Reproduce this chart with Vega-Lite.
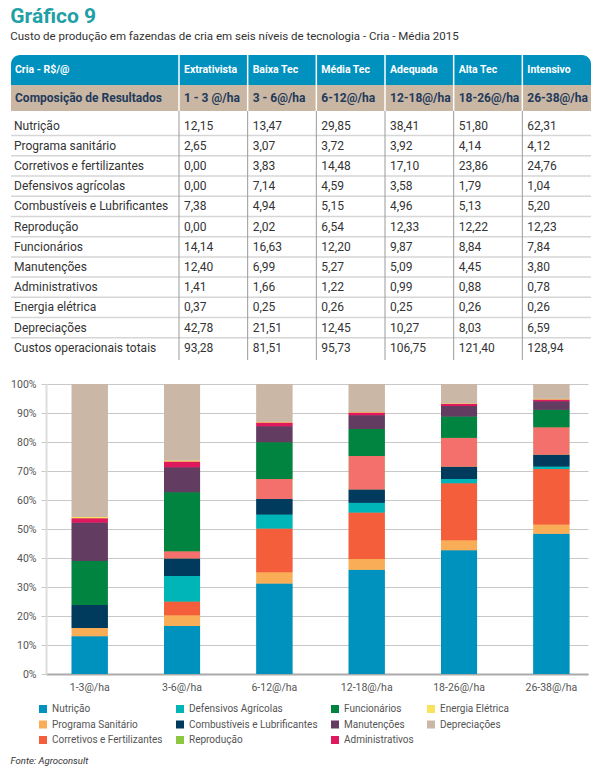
{
  "$schema": "https://vega.github.io/schema/vega-lite/v6.json",
  "background": "white",
  "padding": {"left": 10, "top": 5, "right": 5, "bottom": 5},
  "config": {
    "font": "Roboto",
    "locale": {"number": {"decimal": ",", "thousands": ".", "grouping": [3], "currency": ["R$ ", ""]}},
    "view": {"stroke": null}
  },
  "title": {
    "text": "Gráfico 9",
    "subtitle": "Custo de produção em fazendas de cria em seis níveis de tecnologia - Cria - Média 2015",
    "anchor": "start",
    "frame": "bounds",
    "font": "Roboto",
    "fontSize": 21,
    "fontWeight": "bold",
    "color": "#1FA0A6",
    "subtitleFont": "Roboto",
    "subtitleFontSize": 11.5,
    "subtitleColor": "#333333",
    "subtitlePadding": 4,
    "offset": 12
  },
  "datasets": {
    "tabela": [
      {"item": "Nutrição", "serie": "Nutrição", "ordem": 1, "1-3@/ha": 12.15, "3-6@/ha": 13.47, "6-12@/ha": 29.85, "12-18@/ha": 38.41, "18-26@/ha": 51.80, "26-38@/ha": 62.31},
      {"item": "Programa sanitário", "serie": "Programa Sanitário", "ordem": 2, "1-3@/ha": 2.65, "3-6@/ha": 3.07, "6-12@/ha": 3.72, "12-18@/ha": 3.92, "18-26@/ha": 4.14, "26-38@/ha": 4.12},
      {"item": "Corretivos e fertilizantes", "serie": "Corretivos e Fertilizantes", "ordem": 3, "1-3@/ha": 0.00, "3-6@/ha": 3.83, "6-12@/ha": 14.48, "12-18@/ha": 17.10, "18-26@/ha": 23.86, "26-38@/ha": 24.76},
      {"item": "Defensivos agrícolas", "serie": "Defensivos Agrícolas", "ordem": 4, "1-3@/ha": 0.00, "3-6@/ha": 7.14, "6-12@/ha": 4.59, "12-18@/ha": 3.58, "18-26@/ha": 1.79, "26-38@/ha": 1.04},
      {"item": "Combustíveis e Lubrificantes", "serie": "Combustíveis e Lubrificantes", "ordem": 5, "1-3@/ha": 7.38, "3-6@/ha": 4.94, "6-12@/ha": 5.15, "12-18@/ha": 4.96, "18-26@/ha": 5.13, "26-38@/ha": 5.20},
      {"item": "Reprodução", "serie": "Reprodução", "ordem": 6, "1-3@/ha": 0.00, "3-6@/ha": 2.02, "6-12@/ha": 6.54, "12-18@/ha": 12.33, "18-26@/ha": 12.22, "26-38@/ha": 12.23},
      {"item": "Funcionários", "serie": "Funcionários", "ordem": 7, "1-3@/ha": 14.14, "3-6@/ha": 16.63, "6-12@/ha": 12.20, "12-18@/ha": 9.87, "18-26@/ha": 8.84, "26-38@/ha": 7.84},
      {"item": "Manutenções", "serie": "Manutenções", "ordem": 8, "1-3@/ha": 12.40, "3-6@/ha": 6.99, "6-12@/ha": 5.27, "12-18@/ha": 5.09, "18-26@/ha": 4.45, "26-38@/ha": 3.80},
      {"item": "Administrativos", "serie": "Administrativos", "ordem": 9, "1-3@/ha": 1.41, "3-6@/ha": 1.66, "6-12@/ha": 1.22, "12-18@/ha": 0.99, "18-26@/ha": 0.88, "26-38@/ha": 0.78},
      {"item": "Energia elétrica", "serie": "Energia Elétrica", "ordem": 10, "1-3@/ha": 0.37, "3-6@/ha": 0.25, "6-12@/ha": 0.26, "12-18@/ha": 0.25, "18-26@/ha": 0.26, "26-38@/ha": 0.26},
      {"item": "Depreciações", "serie": "Depreciações", "ordem": 11, "1-3@/ha": 42.78, "3-6@/ha": 21.51, "6-12@/ha": 12.45, "12-18@/ha": 10.27, "18-26@/ha": 8.03, "26-38@/ha": 6.59},
      {"item": "Custos operacionais totais", "serie": "Custos operacionais totais", "ordem": 12, "1-3@/ha": 93.28, "3-6@/ha": 81.51, "6-12@/ha": 95.73, "12-18@/ha": 106.75, "18-26@/ha": 121.40, "26-38@/ha": 128.94}
    ],
    "niveis": [
      {"nivel": "1-3@/ha", "tec": "Extrativista", "faixa": "1 - 3 @/ha"},
      {"nivel": "3-6@/ha", "tec": "Baixa Tec", "faixa": "3 - 6@/ha"},
      {"nivel": "6-12@/ha", "tec": "Média Tec", "faixa": "6-12@/ha"},
      {"nivel": "12-18@/ha", "tec": "Adequada", "faixa": "12-18@/ha"},
      {"nivel": "18-26@/ha", "tec": "Alta Tec", "faixa": "18-26@/ha"},
      {"nivel": "26-38@/ha", "tec": "Intensivo", "faixa": "26-38@/ha"}
    ]
  },
  "columns": 1,
  "spacing": 18,
  "resolve": {"scale": {"color": "independent", "fill": "independent"}, "legend": {"color": "independent", "fill": "independent"}},
  "concat": [
    {
      "columns": 2,
      "spacing": 0,
      "bounds": "flush",
      "concat": [
        {
          "width": 133, "height": 30,
          "data": {"values": [{"t": "Cria - R$/@"}]},
          "encoding": {"x": {"datum": 0, "type": "quantitative", "scale": {"domain": [0, 1], "range": [-35, 133]}, "axis": null}},
          "layer": [
            {"mark": {"type": "rect", "fill": "#0091BF", "cornerRadiusTopLeft": 9}, "encoding": {"x2": {"datum": 1}}},
            {"mark": {"type": "text", "align": "left", "dx": 4, "fontWeight": "bold", "fontSize": 10.5, "color": "white"},
             "encoding": {"text": {"field": "t"}}}
          ]
        },
        {
          "width": 412, "height": 30,
          "layer": [
            {"data": {"values": [{}]}, "mark": {"type": "rect", "fill": "#0091BF", "cornerRadiusTopRight": 9}, "encoding": {}},
            {"data": {"name": "niveis"}, "mark": {"type": "rule", "color": "white", "strokeWidth": 1.5},
             "encoding": {"x": {"field": "nivel", "type": "nominal", "sort": null, "bandPosition": 0, "axis": null, "scale": {"paddingInner": 0, "paddingOuter": 0}}}},
            {"data": {"name": "niveis"}, "mark": {"type": "text", "align": "left", "dx": 5, "fontWeight": "bold", "fontSize": 10.5, "color": "white"},
             "encoding": {"x": {"field": "nivel", "type": "nominal", "sort": null, "bandPosition": 0, "axis": null, "scale": {"paddingInner": 0, "paddingOuter": 0}}, "text": {"field": "tec"}}}
          ]
        },
        {
          "width": 133, "height": 26,
          "data": {"values": [{"t": "Composição de Resultados"}]},
          "encoding": {"x": {"datum": 0, "type": "quantitative", "scale": {"domain": [0, 1], "range": [-35, 133]}, "axis": null}},
          "layer": [
            {"mark": {"type": "rect", "fill": "#C9B6A3"}, "encoding": {"x2": {"datum": 1}}},
            {"mark": {"type": "text", "align": "left", "dx": 4, "fontWeight": "bold", "fontSize": 12, "color": "#1F3A5A"},
             "encoding": {"text": {"field": "t"}}}
          ]
        },
        {
          "width": 412, "height": 26,
          "layer": [
            {"data": {"values": [{}]}, "mark": {"type": "rect", "fill": "#C9B6A3"}, "encoding": {}},
            {"data": {"name": "niveis"}, "mark": {"type": "rule", "color": "white", "strokeWidth": 1.5},
             "encoding": {"x": {"field": "nivel", "type": "nominal", "sort": null, "bandPosition": 0, "axis": null, "scale": {"paddingInner": 0, "paddingOuter": 0}}}},
            {"data": {"name": "niveis"}, "mark": {"type": "text", "align": "left", "dx": 5, "fontWeight": "bold", "fontSize": 12, "color": "#1F3A5A"},
             "encoding": {"x": {"field": "nivel", "type": "nominal", "sort": null, "bandPosition": 0, "axis": null, "scale": {"paddingInner": 0, "paddingOuter": 0}}, "text": {"field": "faixa"}}}
          ]
        },
        {
          "width": 133, "height": 249,
          "data": {"name": "tabela"},
          "encoding": {"x": {"datum": 0, "type": "quantitative", "scale": {"domain": [0, 1], "range": [-35, 133]}, "axis": null}},
          "layer": [
            {"mark": {"type": "text", "align": "left", "dx": 3, "fontSize": 12, "color": "#333333"},
             "encoding": {
               "y": {"field": "item", "type": "nominal", "sort": null, "axis": null, "scale": {"paddingInner": 0, "paddingOuter": 0.16, "align": 0.68}},
               "text": {"field": "item"}}},
            {"transform": [{"filter": "datum.ordem < 12"}],
             "mark": {"type": "rule", "color": "#d6d6d6", "strokeWidth": 1.5},
             "encoding": {"x2": {"datum": 1}, "y": {"field": "item", "type": "nominal", "sort": null, "bandPosition": 1, "axis": null}}}
          ]
        },
        {
          "width": 412, "height": 249,
          "layer": [
            {"data": {"name": "tabela"},
             "transform": [{"fold": ["1-3@/ha", "3-6@/ha", "6-12@/ha", "12-18@/ha", "18-26@/ha", "26-38@/ha"], "as": ["nivel", "v"]}],
             "mark": {"type": "text", "align": "left", "dx": 5, "fontSize": 12, "color": "#333333"},
             "encoding": {
               "x": {"field": "nivel", "type": "nominal", "sort": null, "bandPosition": 0, "axis": null, "scale": {"paddingInner": 0, "paddingOuter": 0}},
               "y": {"field": "item", "type": "nominal", "sort": null, "axis": null, "scale": {"paddingInner": 0, "paddingOuter": 0.16, "align": 0.68}},
               "text": {"field": "v", "type": "quantitative", "format": ".2f"}}},
            {"data": {"name": "tabela"},
             "transform": [{"filter": "datum.ordem < 12"}],
             "mark": {"type": "rule", "color": "#d6d6d6", "strokeWidth": 1.5},
             "encoding": {"y": {"field": "item", "type": "nominal", "sort": null, "bandPosition": 1, "axis": null}}},
            {"data": {"name": "niveis"},
             "mark": {"type": "rule", "color": "#9a9a9a", "strokeWidth": 1},
             "encoding": {"x": {"field": "nivel", "type": "nominal", "sort": null, "bandPosition": 0, "axis": null}}}
          ]
        }
      ]
    },
    {
      "width": 542,
      "height": 290,
      "data": {"name": "tabela"},
      "transform": [
        {"filter": "datum.ordem < 12"},
        {"fold": ["1-3@/ha", "3-6@/ha", "6-12@/ha", "12-18@/ha", "18-26@/ha", "26-38@/ha"], "as": ["nivel", "v"]}
      ],
      "title": {"text": "Fonte: Agroconsult", "orient": "bottom", "anchor": "start", "frame": "bounds", "fontSize": 9.5, "fontStyle": "italic", "fontWeight": "normal", "color": "#333333", "offset": 11},
      "encoding": {
        "x": {"field": "nivel", "type": "nominal", "sort": null, "title": null,
              "scale": {"paddingInner": 0.61, "paddingOuter": 0.24, "align": 0.58},
              "axis": {"labelAngle": 0, "ticks": false, "labelPadding": 8, "labelFontSize": 10.5, "labelColor": "#555555", "domainColor": "#aaaaaa", "domainWidth": 2}},
        "y": {"field": "v", "type": "quantitative", "stack": "normalize", "title": null,
              "axis": {"values": [0, 0.1, 0.2, 0.3, 0.4, 0.5, 0.6, 0.7, 0.8, 0.9, 1], "format": ".0%", "labelFontSize": 10.5, "labelColor": "#555555", "gridColor": "#c8c8c8", "tickColor": "#c8c8c8", "tickSize": 5, "domainColor": "#dddddd", "domainWidth": 2, "labelPadding": 5}},
        "order": {"field": "ordem", "type": "quantitative"}
      },
      "resolve": {"scale": {"color": "independent", "fill": "independent"}},
      "layer": [
        {
          "mark": {"type": "bar"},
          "encoding": {
            "fill": {"field": "serie", "type": "nominal",
                     "scale": {
                       "domain": ["Nutrição", "Defensivos Agrícolas", "Funcionários", "Energia Elétrica", "Programa Sanitário", "Combustíveis e Lubrificantes", "Manutenções", "Depreciações", "Corretivos e Fertilizantes", "Reprodução", "Administrativos"],
                       "range": ["#0092BF", "#00B5B8", "#00843F", "#F8E45C", "#F9AD57", "#003A5C", "#633C62", "#CBB7A5", "#F45E3B", "#8DC63F", "#E0195F"]
                     },
                     "legend": {"title": null, "orient": "none", "legendX": -8, "legendY": 320, "direction": "horizontal", "columns": 4, "gridAlign": "each", "columnPadding": 12, "rowPadding": 5.5,
                                "symbolType": "square", "symbolSize": 64, "symbolStrokeWidth": 0, "labelFontSize": 10, "labelColor": "#555555", "labelLimit": 300}}
          }
        },
        {
          "mark": {"type": "bar"},
          "encoding": {
            "color": {"field": "serie", "type": "nominal", "legend": null,
                      "scale": {
                        "domain": ["Nutrição", "Defensivos Agrícolas", "Funcionários", "Energia Elétrica", "Programa Sanitário", "Combustíveis e Lubrificantes", "Manutenções", "Depreciações", "Corretivos e Fertilizantes", "Reprodução", "Administrativos"],
                        "range": ["#0092BF", "#00B5B8", "#00843F", "#F8E45C", "#F9AD57", "#003A5C", "#633C62", "#CBB7A5", "#F45E3B", "#F3706C", "#E0195F"]
                      }}
          }
        }
      ]
    }
  ]
}
